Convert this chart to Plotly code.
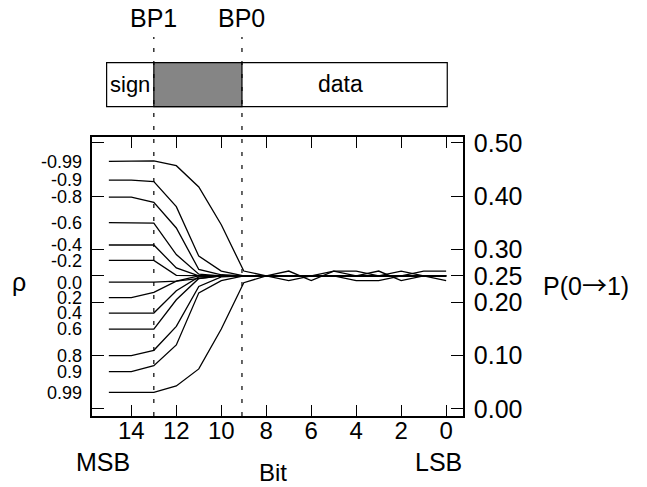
import plotly.graph_objects as go

# ---- data ----
bits = [15, 14, 13, 12, 11, 10, 9, 8, 7, 6, 5, 4, 3, 2, 1, 0]
rho_labels = ["-0.99", "-0.9", "-0.8", "-0.6", "-0.4", "-0.2", "0.0",
              "0.2", "0.4", "0.6", "0.8", "0.9", "0.99"]

p_m099 = [0.465, 0.465, 0.466, 0.457, 0.417, 0.346, 0.259, 0.250, 0.259, 0.241, 0.259, 0.259, 0.250, 0.259, 0.250, 0.241]
p_m09 = [0.430, 0.430, 0.427, 0.380, 0.287, 0.259, 0.250, 0.250, 0.250, 0.250, 0.259, 0.250, 0.259, 0.241, 0.250, 0.250]
p_m08 = [0.398, 0.398, 0.388, 0.340, 0.262, 0.252, 0.250, 0.250, 0.250, 0.250, 0.250, 0.250, 0.250, 0.250, 0.250, 0.250]
p_m06 = [0.350, 0.350, 0.349, 0.290, 0.253, 0.250, 0.250, 0.250, 0.250, 0.250, 0.250, 0.250, 0.250, 0.250, 0.250, 0.250]
p_m04 = [0.308, 0.308, 0.308, 0.265, 0.250, 0.250, 0.250, 0.250, 0.250, 0.250, 0.250, 0.250, 0.250, 0.250, 0.250, 0.250]
p_m02 = [0.279, 0.279, 0.279, 0.251, 0.250, 0.250, 0.250, 0.250, 0.250, 0.250, 0.250, 0.250, 0.250, 0.250, 0.250, 0.250]
p_0 = [0.238, 0.238, 0.238, 0.240, 0.245, 0.250, 0.250, 0.250, 0.250, 0.250, 0.250, 0.250, 0.250, 0.250, 0.250, 0.250]
p_02 = [0.209, 0.209, 0.219, 0.240, 0.250, 0.250, 0.250, 0.250, 0.250, 0.250, 0.250, 0.250, 0.250, 0.250, 0.250, 0.250]
p_04 = [0.180, 0.180, 0.180, 0.222, 0.248, 0.250, 0.250, 0.250, 0.250, 0.250, 0.250, 0.250, 0.250, 0.250, 0.250, 0.250]
p_06 = [0.150, 0.150, 0.150, 0.205, 0.245, 0.250, 0.250, 0.250, 0.250, 0.250, 0.250, 0.250, 0.250, 0.250, 0.250, 0.250]
p_08 = [0.100, 0.100, 0.110, 0.155, 0.230, 0.248, 0.250, 0.250, 0.250, 0.250, 0.250, 0.250, 0.250, 0.250, 0.250, 0.250]
p_09 = [0.070, 0.070, 0.081, 0.120, 0.218, 0.241, 0.250, 0.250, 0.250, 0.250, 0.250, 0.250, 0.250, 0.250, 0.250, 0.250]
p_099 = [0.031, 0.031, 0.031, 0.043, 0.075, 0.150, 0.237, 0.250, 0.241, 0.250, 0.250, 0.241, 0.241, 0.250, 0.259, 0.259]

series = [p_m099, p_m09, p_m08, p_m06, p_m04, p_m02, p_0,
          p_02, p_04, p_06, p_08, p_09, p_099]

x_ticks = [14, 12, 10, 8, 6, 4, 2, 0]
y_ticks = [0.0, 0.1, 0.2, 0.25, 0.3, 0.4, 0.5]

bp1 = 13
bp0 = 9.08
box_left = 15.1
box_right = -0.05

FONT = "Liberation Sans, Arial, sans-serif"

fig = go.Figure()
for lab, s in zip(rho_labels, series):
    fig.add_trace(go.Scatter(x=bits, y=s, mode="lines", name=lab,
                             line=dict(color="black", width=1.3),
                             hoverinfo="skip", showlegend=False))

# invisible trace to carry the rho label axis
fig.add_trace(go.Scatter(x=[bits[0]] * len(series), y=[s[0] for s in series],
                         mode="markers", marker=dict(opacity=0),
                         yaxis="y2", hoverinfo="skip", showlegend=False))

# page has an 8px body margin; plot area wanted at page x 92..463, y 137..416
OFF = 8
W, Hfig = 647 - OFF, 487 - OFF
L, T = 92 - OFF, 137 - OFF
R = W - (463 - OFF)
B = Hfig - (416 - OFF)

yr = [-0.0135, 0.511]
fig.update_layout(
    width=W, height=Hfig,
    margin=dict(l=L, r=R, t=T, b=B, pad=0),
    paper_bgcolor="white", plot_bgcolor="white",
    font=dict(family=FONT, color="black"),
    xaxis=dict(range=[15.75, -0.75], tickvals=x_ticks, ticks="inside", ticklen=11,
               tickwidth=1.3, tickcolor="black", mirror="ticks", showline=True,
               linecolor="black", linewidth=1.7, showgrid=False, zeroline=False,
               ticklabelstandoff=-8,
               tickfont=dict(size=24, family=FONT)),
    yaxis=dict(range=yr, side="right", tickvals=y_ticks, tickformat=".2f",
               ticks="inside", ticklen=12, tickwidth=1.3, tickcolor="black",
               mirror="ticks", showline=True, linecolor="black", linewidth=1.7,
               showgrid=False, zeroline=False, ticklabelstandoff=4,
               tickfont=dict(size=25, family=FONT)),
    yaxis2=dict(range=yr, overlaying="y", side="left",
                tickvals=[s[0] for s in series], ticktext=rho_labels,
                ticks="", showline=False, showgrid=False, zeroline=False,
                ticklabelstandoff=9, tickfont=dict(size=18, family=FONT)),
)

PH = 416.0 - 137.0
PW = 463.0 - 92.0
def py(pix):
    return (416 - pix) / PH
def px(pix):
    return (pix - 92) / PW

shapes = []
# top box
shapes.append(dict(type="rect", xref="x", yref="paper", x0=box_left, x1=box_right,
                   y0=py(106.7), y1=py(62.7), line=dict(color="black", width=1.2),
                   fillcolor="white", layer="above"))
shapes.append(dict(type="rect", xref="x", yref="paper", x0=bp1, x1=bp0,
                   y0=py(106.7), y1=py(62.7), line=dict(color="black", width=1.2),
                   fillcolor="#858585", layer="above"))
for bp in (bp1, bp0):
    shapes.append(dict(type="line", xref="x", yref="paper", x0=bp, x1=bp,
                       y0=0, y1=py(37), line=dict(color="black", width=1.2, dash="4px,9px"),
                       layer="above"))
fig.update_layout(shapes=shapes)

def note(x, y, text, size, xref="paper"):
    return dict(x=x, y=y, xref=xref, yref="paper", text=text, showarrow=False,
                xanchor="center", yanchor="middle", borderpad=0,
                font=dict(size=size))

ann = [
    note(bp1, py(18.5), "BP1", 25, "x"),
    note(bp0, py(18.5), "BP0", 25, "x"),
    note((box_left + bp1) / 2, py(84.5), "sign", 22, "x"),
    note((bp0 + box_right) / 2 + 0.2, py(84.5), "data", 23, "x"),
    note(px(19), py(282), "ρ", 25),
    note(px(586), py(284), "P(0<span style='font-family:Noto Sans CJK JP'>→</span>1)", 25),
    note(px(103), py(461.5), "MSB", 25),
    note(px(438), py(461.5), "LSB", 25),
    note(px(273), py(472), "Bit", 24),
]
fig.update_layout(annotations=ann)

fig.write_html("out.html")
